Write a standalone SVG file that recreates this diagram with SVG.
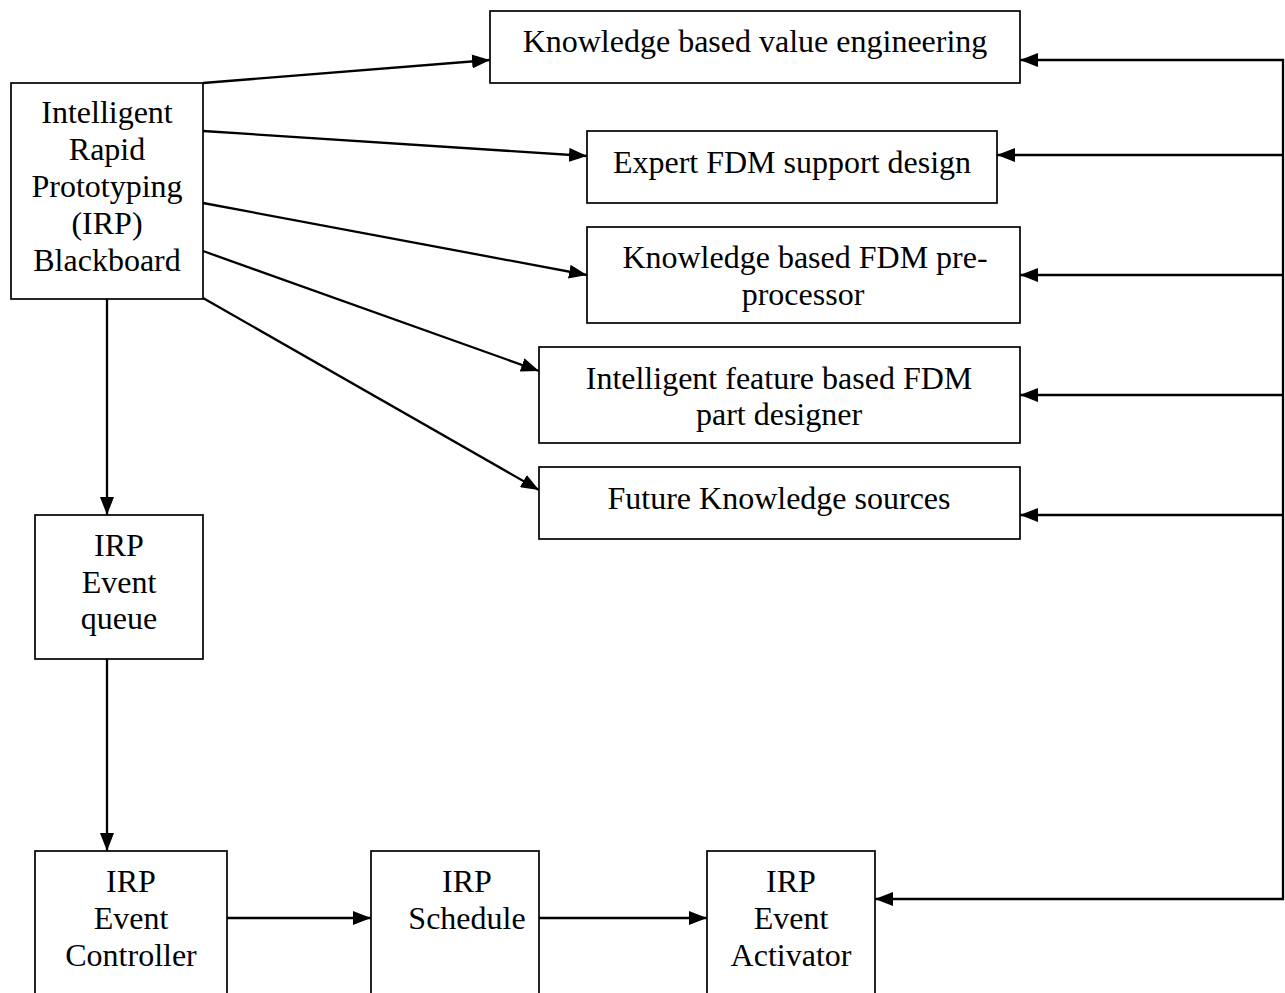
<svg xmlns="http://www.w3.org/2000/svg" width="1285" height="993" viewBox="0 0 1285 993">
  <style>
    .box { fill: #ffffff; stroke: #000000; stroke-width: 1.7; }
    .lbl { font-family: "Liberation Serif", "Times New Roman", serif; font-size: 32px; fill: #000000; text-anchor: middle; }
    .wire { fill: none; stroke: #000000; stroke-width: 2.3; }
    .arr { marker-end: url(#head); }
  </style>
  <defs>
    <marker id="head" markerUnits="userSpaceOnUse" markerWidth="18" markerHeight="14" refX="18" refY="7" orient="auto">
      <path d="M0,0 L18,7 L0,14 z" fill="#000000"/>
    </marker>
  </defs>
  <rect width="1285" height="993" fill="#ffffff"/>

  <!-- connectors -->
  <g id="connectors">
    <!-- blackboard to knowledge sources -->
    <line class="wire arr" x1="203" y1="83" x2="490" y2="60"/>
    <line class="wire arr" x1="203" y1="131" x2="587" y2="156"/>
    <line class="wire arr" x1="203" y1="203" x2="587" y2="275"/>
    <line class="wire arr" x1="203" y1="251" x2="539" y2="371"/>
    <line class="wire arr" x1="203" y1="298" x2="539" y2="490"/>
    <!-- blackboard chain down -->
    <line class="wire arr" x1="107" y1="299" x2="107" y2="515"/>
    <line class="wire arr" x1="107" y1="659" x2="107" y2="851"/>
    <!-- bottom chain -->
    <line class="wire arr" x1="227" y1="918" x2="371" y2="918"/>
    <line class="wire arr" x1="539" y1="918" x2="707" y2="918"/>
    <!-- return bus on the right -->
    <line class="wire" x1="1283" y1="59" x2="1283" y2="900"/>
    <line class="wire arr" x1="1284" y1="60" x2="1020" y2="60"/>
    <line class="wire arr" x1="1284" y1="155" x2="997" y2="155"/>
    <line class="wire arr" x1="1284" y1="275" x2="1020" y2="275"/>
    <line class="wire arr" x1="1284" y1="395" x2="1020" y2="395"/>
    <line class="wire arr" x1="1284" y1="515" x2="1020" y2="515"/>
    <line class="wire arr" x1="1284" y1="899" x2="875" y2="899"/>
  </g>

  <g id="blackboard">
    <rect class="box" x="11" y="83" width="192" height="216"/>
    <text class="lbl" x="107" y="123">Intelligent</text>
    <text class="lbl" x="107" y="160">Rapid</text>
    <text class="lbl" x="107" y="197">Prototyping</text>
    <text class="lbl" x="107" y="234">(IRP)</text>
    <text class="lbl" x="107" y="271">Blackboard</text>
  </g>

  <g id="value-engineering">
    <rect class="box" x="490" y="11" width="530" height="72"/>
    <text class="lbl" x="755" y="52">Knowledge based value engineering</text>
  </g>

  <g id="support-design">
    <rect class="box" x="587" y="131" width="410" height="72"/>
    <text class="lbl" x="792" y="173">Expert FDM support design</text>
  </g>

  <g id="pre-processor">
    <rect class="box" x="587" y="227" width="433" height="96"/>
    <text class="lbl" x="805" y="268">Knowledge based FDM pre-</text>
    <text class="lbl" x="803" y="305">processor</text>
  </g>

  <g id="part-designer">
    <rect class="box" x="539" y="347" width="481" height="96"/>
    <text class="lbl" x="779" y="389">Intelligent feature based FDM</text>
    <text class="lbl" x="779" y="425">part designer</text>
  </g>

  <g id="future-sources">
    <rect class="box" x="539" y="467" width="481" height="72"/>
    <text class="lbl" x="779" y="509">Future Knowledge sources</text>
  </g>

  <g id="event-queue">
    <rect class="box" x="35" y="515" width="168" height="144"/>
    <text class="lbl" x="119" y="556">IRP</text>
    <text class="lbl" x="119" y="593">Event</text>
    <text class="lbl" x="119" y="629">queue</text>
  </g>

  <g id="event-controller">
    <rect class="box" x="35" y="851" width="192" height="160"/>
    <text class="lbl" x="131" y="892">IRP</text>
    <text class="lbl" x="131" y="929">Event</text>
    <text class="lbl" x="131" y="966">Controller</text>
  </g>

  <g id="schedule">
    <rect class="box" x="371" y="851" width="168" height="160"/>
    <text class="lbl" x="467" y="892">IRP</text>
    <text class="lbl" x="467" y="929">Schedule</text>
  </g>

  <g id="event-activator">
    <rect class="box" x="707" y="851" width="168" height="160"/>
    <text class="lbl" x="791" y="892">IRP</text>
    <text class="lbl" x="791" y="929">Event</text>
    <text class="lbl" x="791" y="966">Activator</text>
  </g>
</svg>
